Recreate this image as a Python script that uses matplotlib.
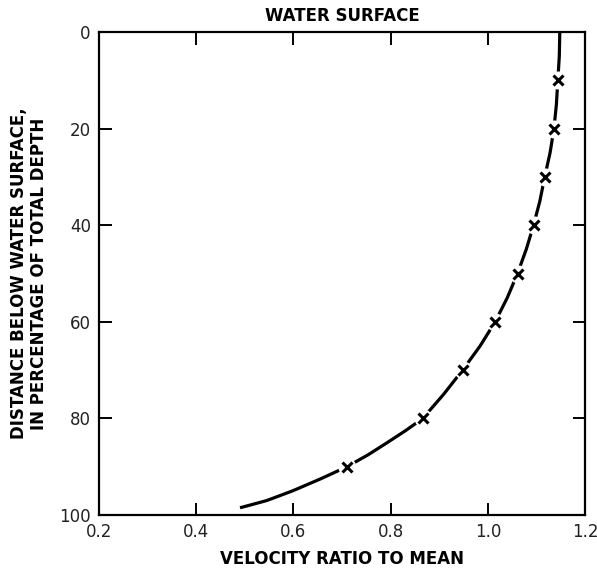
import numpy as np
import matplotlib.pyplot as plt

# measured points (percent depth, velocity ratio)
depth_pts = [10, 20, 30, 40, 50, 60, 70, 80, 90]
vel_pts = [1.144, 1.136, 1.117, 1.094, 1.061, 1.015, 0.948, 0.866, 0.710]

# smooth profile curve
curve_depth = [0, 5, 10, 15, 20, 25, 30, 35, 40, 45, 50, 55, 60, 65, 70,
               75, 80, 82.5, 85, 87.5, 90, 92.5, 95, 97, 98.5]
curve_vel = [1.148, 1.147, 1.144, 1.141, 1.136, 1.128, 1.117, 1.107, 1.094,
             1.079, 1.061, 1.040, 1.015, 0.984, 0.948, 0.909, 0.866, 0.831,
             0.793, 0.754, 0.710, 0.656, 0.598, 0.545, 0.490]

xticks = [0.2, 0.4, 0.6, 0.8, 1.0, 1.2]
yticks = [0, 20, 40, 60, 80, 100]

fig = plt.figure(figsize=(5.97, 5.71), dpi=100)
ax = fig.add_axes([0.166, 0.098, 0.814, 0.846])

ax.plot(curve_vel, curve_depth, color='black', lw=2.3, solid_joinstyle='round',
        solid_capstyle='butt', zorder=2)
# white halo so the line breaks around each marker
ax.plot(vel_pts, depth_pts, ls='none', marker='o', ms=12, mfc='white', mec='white', zorder=3)
ax.plot(vel_pts, depth_pts, ls='none', marker='x', ms=7, mew=2.2, color='black', zorder=4)

ax.set_xlim(0.2, 1.2)
ax.set_ylim(100, 0)
ax.set_xticks(xticks)
ax.set_xticklabels(['%.1f' % v for v in xticks])
ax.set_yticks(yticks)
ax.set_yticklabels([str(v) for v in yticks])
ax.tick_params(direction='in', length=9, width=1.4, top=True, right=True,
               labelsize=12, labelcolor='#222222', pad=6)
for s in ax.spines.values():
    s.set_linewidth(1.6)

ax.set_xlabel('VELOCITY RATIO TO MEAN', fontsize=12, fontweight='bold', labelpad=6)
ax.set_ylabel('DISTANCE BELOW WATER SURFACE,\nIN PERCENTAGE OF TOTAL DEPTH',
              fontsize=12, fontweight='bold', labelpad=8, linespacing=1.15)
ax.set_title('WATER SURFACE', fontsize=12, fontweight='bold', pad=8)

plt.savefig('out.png', dpi=100)
